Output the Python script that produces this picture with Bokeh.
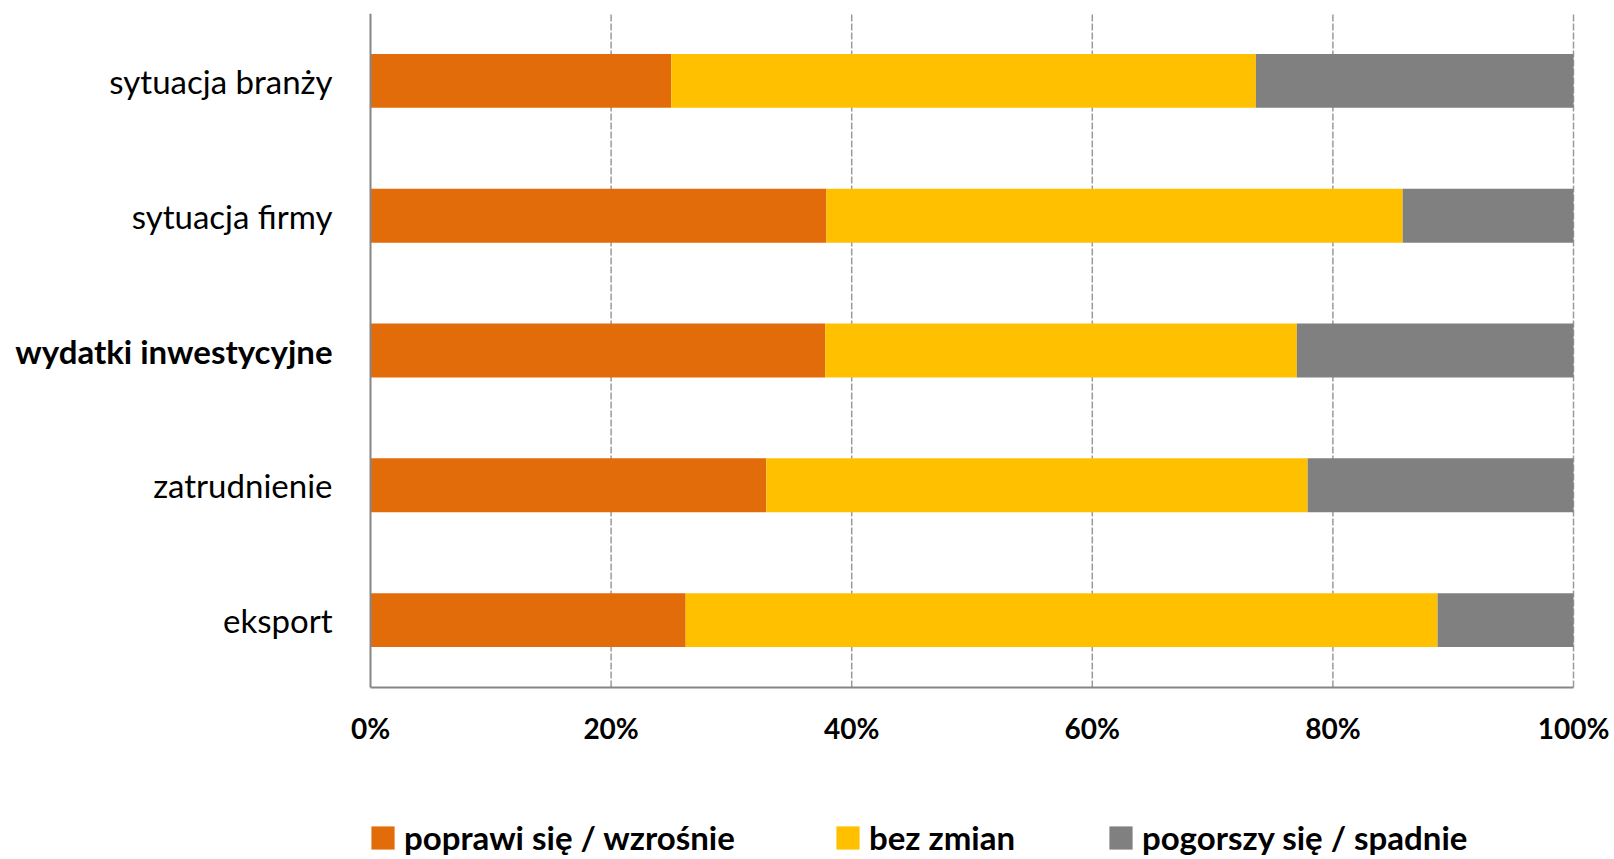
from bokeh.plotting import figure
from bokeh.models import (Range1d, Legend, LegendItem, FixedTicker, ColumnDataSource)
from bokeh.embed import file_html
from bokeh.resources import INLINE
from bokeh.core.properties import value

categories = ["sytuacja branży", "sytuacja firmy", "wydatki inwestycyjne",
              "zatrudnienie", "eksport"]
bold_category = "wydatki inwestycyjne"

series_names = ["poprawi się / wzrośnie", "bez zmian", "pogorszy się / spadnie"]
improve = [25.0, 37.9, 37.8, 32.9, 26.2]
same = [48.6, 47.9, 39.2, 45.0, 62.5]
worse = [26.4, 14.2, 23.0, 22.1, 11.3]
colors = ["#E36C0A", "#FFC000", "#808080"]

tick_values = [0, 20, 40, 60, 80, 100]
tick_labels = ["0%", "20%", "40%", "60%", "80%", "100%"]

FONT = "Lato"

# layout (pixels)
LABEL_AREA = 370      # space left of the 0% axis, inside the frame
DATA_W = 1203         # width of 0..100 %
RIGHT_AREA = 39       # room right of 100 % for its tick label
DATA_H = 674          # height of the category band
TOP = 13
TOTAL_H = 857
px_x = DATA_W / 100.0
n = len(categories)
px_y = DATA_H / n

# category slots from top to bottom
ypos = [n - i - 0.5 for i in range(n)]

source = ColumnDataSource(dict(
    cat=categories, y=ypos, improve=improve, same=same, worse=worse,
    lx=[0] * n,
    style=["bold" if c == bold_category else "normal" for c in categories]))

grid_src = ColumnDataSource(dict(gx=tick_values[1:],
                                 y0=[0] * (len(tick_values) - 1),
                                 y1=[n] * (len(tick_values) - 1)))
axis_src = ColumnDataSource(dict(x=[0], y0=[0], y1=[n]))

frame_h = TOTAL_H - TOP
p = figure(x_range=Range1d(-LABEL_AREA / px_x, 100 + RIGHT_AREA / px_x),
           y_range=Range1d(-(frame_h - DATA_H) / px_y, n),
           frame_width=LABEL_AREA + DATA_W + RIGHT_AREA, frame_height=frame_h,
           min_border_left=0, min_border_right=0,
           min_border_top=TOP, min_border_bottom=0,
           output_backend="svg", toolbar_location=None)

# dashed vertical grid lines from the axis to the top
p.segment(x0="gx", y0="y0", x1="gx", y1="y1", source=grid_src,
          line_color="#9a9a9a", line_dash="7 2", line_width=1.5)

renderers = p.hbar_stack(["improve", "same", "worse"], y="y", height=0.40,
                         color=colors, line_color=None, source=source)

# vertical (category) axis line
p.segment(x0="x", y0="y0", x1="x", y1="y1", source=axis_src,
          line_color="#868686", line_width=2)

p.text(x="lx", y="y", text="cat", source=source, x_offset=-38,
       text_align="right", text_baseline="middle",
       text_font=value(FONT), text_font_size=value("33px"),
       text_font_style="style", text_color="black")

p.outline_line_color = None
p.background_fill_color = "white"
p.border_fill_color = "white"
p.grid.visible = False
p.yaxis.visible = False

xa = p.xaxis[0]
xa.fixed_location = 0
xa.bounds = (tick_values[0], tick_values[-1])
xa.ticker = FixedTicker(ticks=tick_values)
xa.major_label_overrides = dict(zip(tick_values, tick_labels))
xa.axis_line_color = "#868686"
xa.axis_line_width = 2
xa.major_tick_line_color = None
xa.minor_tick_line_color = None
xa.major_tick_out = 0
xa.major_tick_in = 0
xa.major_label_standoff = 23
xa.major_label_text_font = FONT
xa.major_label_text_font_style = "bold"
xa.major_label_text_font_size = "28px"
xa.major_label_text_color = "black"

legend_x = [368, 833, 1106]
for name, r, lx in zip(series_names, renderers, legend_x):
    lg = Legend(items=[LegendItem(label=value(name), renderers=[r])],
                location=(lx, 0), orientation="horizontal",
                glyph_width=29, glyph_height=29, label_standoff=7,
                padding=0, margin=0, border_line_color=None,
                background_fill_alpha=0,
                label_text_font=FONT, label_text_font_style="bold",
                label_text_font_size="33px", label_text_color="black")
    p.add_layout(lg, "center")

open("out.html", "w").write(file_html(p, INLINE))
